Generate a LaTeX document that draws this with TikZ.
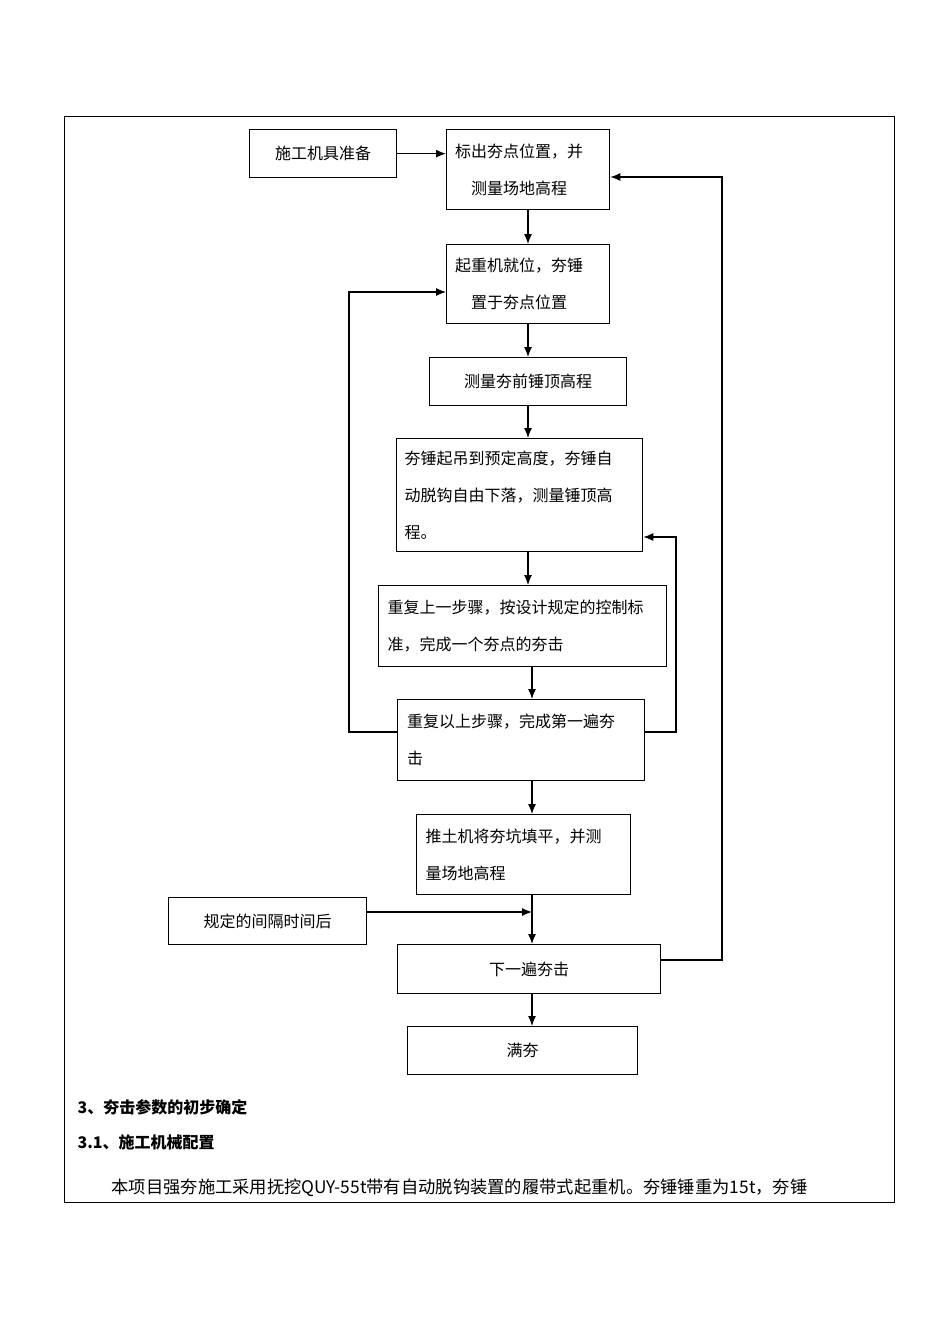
\documentclass[tikz,border=0pt]{standalone}
\usepackage{fontspec}
\setmainfont{Liberation Serif}
\newfontfamily\cjk{Noto Sans CJK SC}
\usetikzlibrary{arrows.meta}
\begin{document}
\begin{tikzpicture}[x=1pt,y=-1pt]
\tikzstyle{flowbox}=[draw,line width=1.3pt,inner sep=0pt,anchor=north west,font=\cjk\fontsize{16}{37}\selectfont]
\tikzstyle{go}=[line width=1.2pt,-{Latex[length=10pt,width=8pt]}]
\useasboundingbox (0,0) rectangle (950,1344);
\draw[line width=0.8pt] (64,116) rectangle (894,1202);
% boxes
\node[flowbox,minimum width=147pt,minimum height=48pt] (tools) at (249,129) {施工机具准备};
\node[flowbox,minimum width=163pt,minimum height=80pt,text width=146pt,align=left] (mark) at (446,129) {标出夯点位置，并\\\hspace*{1em}测量场地高程};
\node[flowbox,minimum width=163pt,minimum height=79pt,text width=146pt,align=left] (crane) at (446,244) {起重机就位，夯锤\\\hspace*{1em}置于夯点位置};
\node[flowbox,minimum width=197pt,minimum height=48pt] (measure) at (429,357) {测量夯前锤顶高程};
\node[flowbox,minimum width=246pt,minimum height=113pt,text width=230pt,align=left] (lift) at (396,438) {夯锤起吊到预定高度，夯锤自\\动脱钩自由下落，测量锤顶高\\程。};
\node[flowbox,minimum width=288pt,minimum height=81pt,text width=270pt,align=left] (repeat) at (378,585) {重复上一步骤，按设计规定的控制标\\准，完成一个夯点的夯击};
\node[flowbox,minimum width=247pt,minimum height=81pt,text width=228pt,align=left] (first) at (397,699) {重复以上步骤，完成第一遍夯\\击};
\node[flowbox,minimum width=214pt,minimum height=80pt,text width=196pt,align=left] (fill) at (416,814) {推土机将夯坑填平，并测\\量场地高程};
\node[flowbox,minimum width=198pt,minimum height=47pt] (wait) at (168,897) {规定的间隔时间后};
\node[flowbox,minimum width=263pt,minimum height=49pt] (next) at (397,944) {下一遍夯击};
\node[flowbox,minimum width=230pt,minimum height=48pt] (full) at (407,1026) {满夯};
% connections
\draw[go] (tools.east) -- (mark.west |- tools.east);
\draw[go] (mark.south -| 528,0) -- (crane.north -| 528,0);
\draw[go] (crane.south -| 528,0) -- (measure.north -| 528,0);
\draw[go] (measure.south -| 528,0) -- (lift.north -| 528,0);
\draw[go] (lift.south -| 528,0) -- (repeat.north -| 528,0);
\draw[go] (repeat.south -| 532,0) -- (first.north -| 532,0);
\draw[go] (first.south -| 532,0) -- (fill.north -| 532,0);
\draw[go] (fill.south -| 532,0) -- (next.north -| 532,0);
\coordinate (join) at (532,912);
\draw[go] (wait.east |- join) -- (join);
\draw[go] (next.south -| 532,0) -- (full.north -| 532,0);
\draw[go] (first.west |- 0,732) -| (349,292) -- (crane.west |- 0,292);
\draw[go] (first.east |- 0,732) -| (676,537) -- (lift.east |- 0,537);
\draw[go] (next.east |- 0,960) -| (722,177) -- (mark.east |- 0,177);
% text
\node[anchor=west,font=\cjk\bfseries\fontsize{16}{18}\selectfont] (h1) at (74,1107) {3、夯击参数的初步确定};
\node[anchor=west,font=\cjk\bfseries\fontsize{16}{18}\selectfont] (h2) at (74,1142) {3.1、施工机械配置};
\node[anchor=west,font=\cjk\fontsize{17.3}{18}\selectfont] (p1) at (108,1188) {本项目强夯施工采用抚挖QUY-55t带有自动脱钩装置的履带式起重机。夯锤锤重为15t，夯锤};
\end{tikzpicture}
\end{document}
